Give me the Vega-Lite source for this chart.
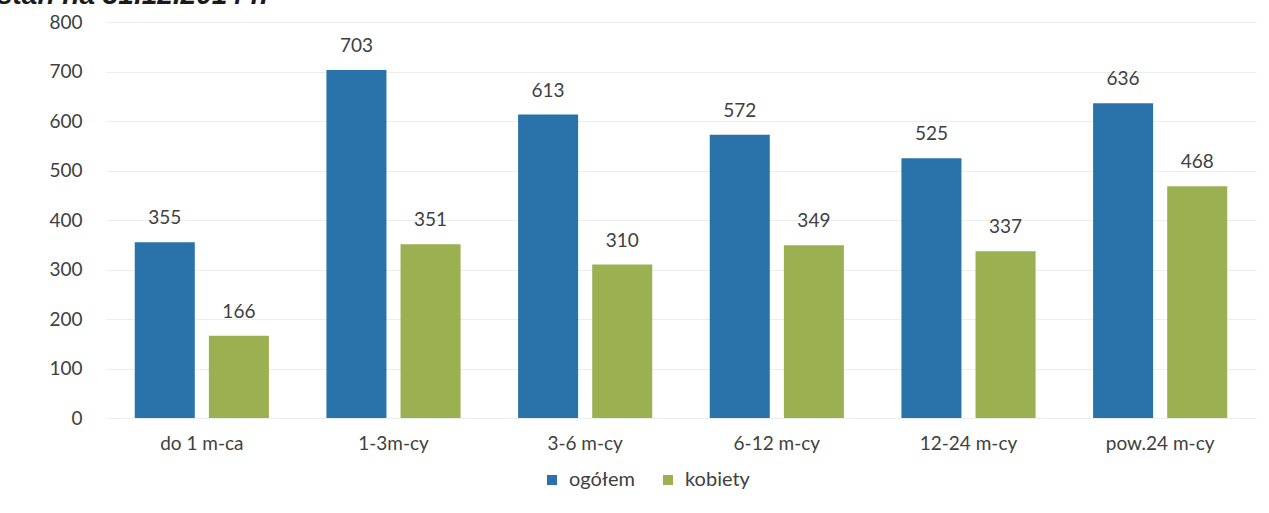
{
  "$schema": "https://vega.github.io/schema/vega-lite/v6.json",
  "width": 1150,
  "height": 396,
  "autosize": {"type": "none"},
  "padding": {"left": 106, "top": 22, "right": 13, "bottom": 95},
  "background": "white",
  "title": {
    "text": "stan na 31.12.2014 r.",
    "anchor": "start",
    "frame": "bounds",
    "orient": "top",
    "offset": 3,
    "dx": -52,
    "font": "Liberation Sans",
    "fontSize": 28,
    "fontWeight": "bold",
    "fontStyle": "italic",
    "color": "#1a1a1a"
  },
  "data": {
    "values": [
      {"okres": "do 1 m-ca", "grupa": "ogółem", "wartosc": 355},
      {"okres": "do 1 m-ca", "grupa": "kobiety", "wartosc": 166},
      {"okres": "1-3m-cy", "grupa": "ogółem", "wartosc": 703},
      {"okres": "1-3m-cy", "grupa": "kobiety", "wartosc": 351},
      {"okres": "3-6 m-cy", "grupa": "ogółem", "wartosc": 613},
      {"okres": "3-6 m-cy", "grupa": "kobiety", "wartosc": 310},
      {"okres": "6-12 m-cy", "grupa": "ogółem", "wartosc": 572},
      {"okres": "6-12 m-cy", "grupa": "kobiety", "wartosc": 349},
      {"okres": "12-24 m-cy", "grupa": "ogółem", "wartosc": 525},
      {"okres": "12-24 m-cy", "grupa": "kobiety", "wartosc": 337},
      {"okres": "pow.24 m-cy", "grupa": "ogółem", "wartosc": 636},
      {"okres": "pow.24 m-cy", "grupa": "kobiety", "wartosc": 468}
    ]
  },
  "encoding": {
    "x": {
      "field": "okres",
      "type": "nominal",
      "sort": null,
      "scale": {"paddingInner": 0.30, "paddingOuter": 0.15},
      "axis": {
        "title": null,
        "labelAngle": 0,
        "labelFont": "Lato",
        "labelFontSize": 19,
        "labelColor": "#404040",
        "labelPadding": 16,
        "ticks": false,
        "domain": false,
        "grid": false
      }
    },
    "xOffset": {
      "field": "grupa",
      "type": "nominal",
      "sort": ["ogółem", "kobiety"],
      "scale": {"paddingInner": 0.19, "paddingOuter": 0}
    },
    "y": {
      "field": "wartosc",
      "type": "quantitative",
      "scale": {"domain": [0, 800], "nice": false},
      "axis": {
        "title": null,
        "values": [0, 100, 200, 300, 400, 500, 600, 700, 800],
        "labelFont": "Lato",
        "labelFontSize": 19,
        "labelColor": "#404040",
        "labelPadding": 24,
        "ticks": false,
        "domain": false,
        "grid": true,
        "gridColor": "#ededed",
        "gridWidth": 1
      }
    }
  },
  "layer": [
    {
      "mark": {"type": "bar"},
      "encoding": {
        "color": {
          "field": "grupa",
          "type": "nominal",
          "sort": ["ogółem", "kobiety"],
          "scale": {"domain": ["ogółem", "kobiety"], "range": ["#2a73aa", "#9bb051"]},
          "legend": {
            "title": null,
            "orient": "none",
            "legendX": 436,
            "legendY": 448,
            "direction": "horizontal",
            "symbolType": "square",
            "symbolSize": 100,
            "symbolStrokeWidth": 0,
            "labelFont": "Lato",
            "labelFontSize": 20,
            "labelColor": "#404040",
            "columnPadding": 22,
            "labelOffset": 7
          }
        }
      }
    },
    {
      "mark": {"type": "text", "baseline": "bottom", "dy": -14, "font": "Lato", "fontSize": 19, "color": "#404040"},
      "encoding": {
        "text": {"field": "wartosc", "type": "quantitative"}
      }
    }
  ],
  "config": {"view": {"stroke": null}}
}
